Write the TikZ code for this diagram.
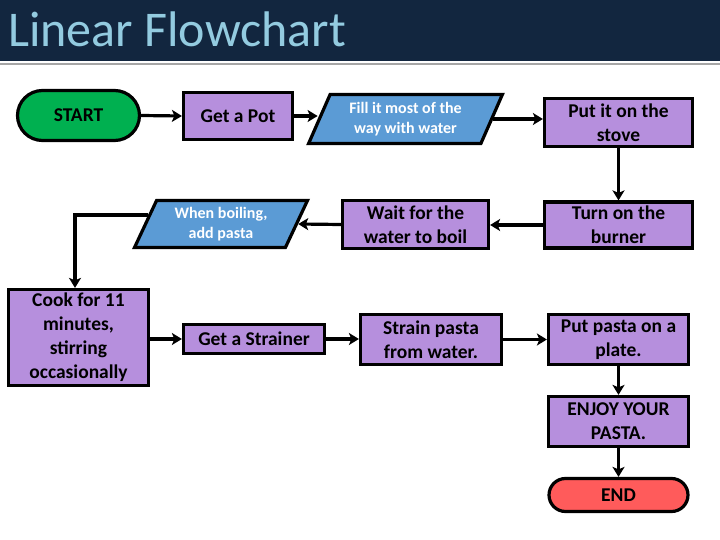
\documentclass[tikz,border=0pt]{standalone}
\usepackage{fontspec}
\setmainfont{Carlito}
\usetikzlibrary{shapes.geometric,shapes.misc,arrows.meta,calc}
\definecolor{navy}{HTML}{12263F}
\definecolor{titleblue}{HTML}{93CBE0}
\definecolor{boxpurple}{HTML}{B68FDD}
\definecolor{ioblue}{HTML}{5B9BD5}
\definecolor{startgreen}{HTML}{00B050}
\definecolor{endred}{HTML}{FF5B5B}
\tikzset{
  x=1pt, y=-1pt,
  base/.style={draw=black, line width=3.2pt, inner sep=2pt, align=center},
  procbox/.style={base, rectangle, fill=boxpurple, text=black,
    font=\fontsize{19.5}{24}\selectfont\bfseries},
  iobox/.style={base, trapezium, trapezium left angle=66, trapezium right angle=114,
    trapezium stretches=true, fill=ioblue, text=white,
    font=\fontsize{16}{19.5}\selectfont\bfseries},
  termbox/.style={base, rounded rectangle, text=black,
    font=\fontsize{19.5}{24}\selectfont\bfseries},
  arr/.style={line width=3.2pt, -{Stealth[length=10pt,width=12pt,inset=2.5pt]}},
}
\begin{document}
\begin{tikzpicture}
\useasboundingbox (0,0) rectangle (720,540);
% title bar
\fill[navy] (0,0) rectangle (720,61);
\fill[gray!70] (0,63) rectangle (720,65.5);
\node[anchor=base west, text=titleblue, font=\fontsize{50}{54}\selectfont, inner sep=0pt] (title) at (8,47) {Linear Flowchart};
% nodes
\node[termbox, fill=startgreen, minimum width=126pt, minimum height=50pt] (start) at (78.5,115.5) {START};
\node[procbox, minimum width=109pt, minimum height=47pt] (pot) at (238,116) {Get a Pot};
\node[iobox, minimum width=194pt, minimum height=49pt] (fill) at (405.5,119) {Fill it most of the\\way with water};
\node[procbox, minimum width=148pt, minimum height=48pt] (stove) at (618.5,122.5) {Put it on the\\stove};
\node[procbox, minimum width=148pt, minimum height=46pt] (burner) at (618.5,225) {Turn on the\\burner};
\node[procbox, minimum width=146pt, minimum height=48pt] (wait) at (415.5,224.5) {Wait for the\\water to boil};
\node[iobox, minimum width=173pt, minimum height=47pt] (boil) at (221,224) {When boiling,\\add pasta};
\node[procbox, minimum width=140pt, minimum height=96pt] (cook) at (78.5,337.5) {Cook for 11\\minutes,\\stirring\\occasionally};
\node[procbox, minimum width=141pt, minimum height=29pt] (strainer) at (254,339) {Get a Strainer};
\node[procbox, minimum width=141pt, minimum height=50pt] (strain) at (431,339.5) {Strain pasta\\from water.};
\node[procbox, minimum width=140pt, minimum height=50pt] (plate) at (618.5,339.5) {Put pasta on a\\plate.};
\node[procbox, minimum width=140pt, minimum height=50pt] (enjoy) at (618.5,421.5) {ENJOY YOUR\\PASTA.};
\node[termbox, fill=endred, minimum width=143pt, minimum height=33pt] (endn) at (618.5,495) {END};
% connectors
\draw[arr] (start.east) -- (pot.west);
\draw[arr] (pot.east) -- (pot.east -| fill.left side);
\draw[arr] (fill.right side) -- (fill.right side -| stove.west);
\draw[arr] (stove.south) -- (burner.north);
\draw[arr] (burner.west) -- (burner.west -| wait.east);
\draw[arr] (wait.west) -- (boil.right side);
\coordinate (boilout) at ($(boil.bottom left corner)!0.68!(boil.top left corner)$);
\draw[arr] (boilout) -| ([xshift=-3.5pt]cook.north);
\draw[arr] (cook.east |- strainer) -- (strainer.west);
\draw[arr] (strainer.east) -- (strainer.east -| strain.west);
\draw[arr] (strain.east) -- (plate.west);
\draw[arr] (plate.south) -- (enjoy.north);
\draw[arr] (enjoy.south) -- (endn.north);
\end{tikzpicture}
\end{document}
